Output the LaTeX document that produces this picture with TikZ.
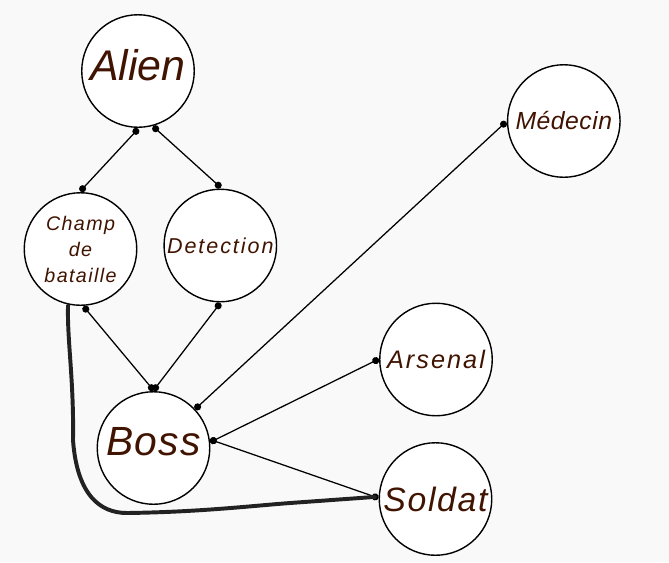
\documentclass[tikz,border=0pt]{standalone}
\usepackage{fontspec}
\usetikzlibrary{arrows.meta}
\newfontfamily\namefont{Liberation Sans}
\newcommand\namestyle[3]{\namefont\itshape\fontsize{#1}{#2}\selectfont\addfontfeature{LetterSpace=#3}}
\definecolor{namebrown}{RGB}{64,20,0}
\definecolor{paper}{RGB}{249,249,249}
\definecolor{trailgray}{RGB}{34,34,34}
\begin{document}
\begin{tikzpicture}
    [
    x=0.025cm, y=-0.025cm,
    station/.style={
      circle,
      draw=black,
      fill=white,
      line width=1pt,
      minimum size=80pt,
      inner sep=1pt,
      outer sep=2.9pt,
      text=namebrown,
      align=center
    },
    link/.style={
      {Circle[length=5pt]}-{Circle[length=5pt]},
      shorten <=-2.5pt,
      shorten >=-2.5pt,
      line width=0.9pt
    },
    trail/.style={
      draw=trailgray,
      line width=2.8pt,
      line cap=round,
      line join=round
    }
    ]
    \fill[paper] (0,0) rectangle (669,562);
    \useasboundingbox (0,0) rectangle (669,562);

    % stations
    \node (alien) at (138,71) [station, text depth=9pt, font=\namestyle{30.5}{36}{0}] {Alien};
    \node (champ) at (80.5,249) [station, font=\namestyle{14}{18.5}{7}] {Champ\\de\\bataille};
    \node (detection) at (220.3,245.5) [station, font=\namestyle{15.3}{18}{9}] {Detection};
    \node (medecin) at (563.8,121) [station, font=\namestyle{17.6}{21}{2}] {Médecin};
    \node (boss) at (153.5,448) [station, text depth=9.2pt, font=\namestyle{29}{35}{3}] {Boss};
    \node (arsenal) at (436,359.5) [station, font=\namestyle{18}{22}{8}] {Arsenal};
    \node (soldat) at (435.5,499) [station, font=\namestyle{24}{29}{5}] {Soldat};

    % links
    \draw[link] (alien.268) -- (champ.88);
    \draw[link] (alien.287) -- (detection.92);
    \draw[link] (champ.275) -- (boss.92);
    \draw[link] (detection.268) -- (boss.88);
    \draw[link] (medecin.183) -- (boss.43);
    \draw[link] (arsenal.181) -- (boss.7);
    \draw[link] (boss.7) -- (soldat.178);

    % hand drawn path
    \coordinate (bendA) at (73,440);
    \coordinate (bendB) at (127,513);
    \coordinate (bendC) at (290,503);
    \draw[trail, shorten <=-2pt] (champ.258)
      .. controls (67,340) and (74,380) .. (bendA)
      .. controls (77,495) and (100,513) .. (bendB)
      .. controls (200,512) and (250,506) .. (bendC)
      -- (soldat.178);
  \end{tikzpicture}
\end{document}
